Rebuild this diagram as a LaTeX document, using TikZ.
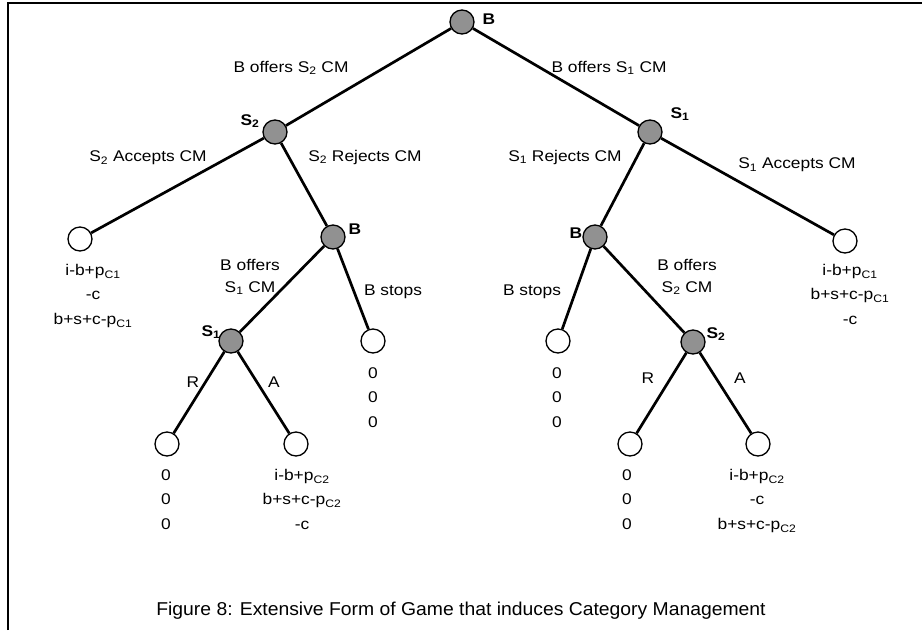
\documentclass[tikz,border=0pt]{standalone}
\usepackage{fontspec}
\setmainfont{Liberation Sans}[FakeStretch=1.12]
\newfontfamily\capfont{Liberation Sans}[FakeStretch=1.04]
\begin{document}
\begin{tikzpicture}[x=1pt,y=-1pt,
  dec/.style={circle,draw=black,line width=1.3pt,fill={rgb,255:red,145;green,145;blue,145},minimum size=24pt,inner sep=0pt},
  term/.style={circle,draw=black,line width=1.3pt,fill=white,minimum size=24pt,inner sep=0pt},
  branch/.style={line width=2.7pt},
  lbl/.style={font=\fontsize{15.5}{17}\selectfont,inner sep=0pt},
  plabel/.style={font=\fontsize{15.5}{17}\selectfont\bfseries,inner sep=0pt},
  pay/.style={font=\fontsize{15.5}{24.5}\selectfont,align=center,anchor=north,inner sep=0pt}]
\useasboundingbox (0,0) rectangle (922,630);
% frame
\draw[line width=2pt] (7.5,630) -- (7.5,3) -- (922,3);

% decision and terminal nodes
\node[dec] (root) at (462,22) {};
\node[dec] (sL) at (275,132) {};
\node[dec] (sR) at (650,132) {};
\node[term] (tL) at (80,239) {};
\node[dec] (bL) at (333,237) {};
\node[dec] (bR) at (595,237) {};
\node[term] (tR) at (845,241) {};
\node[dec] (s1L) at (231,341) {};
\node[term] (stopL) at (373,341) {};
\node[term] (stopR) at (558,341) {};
\node[dec] (s2R) at (693,342) {};
\node[term] (rL) at (167,444) {};
\node[term] (aL) at (296,444) {};
\node[term] (rR) at (630,444) {};
\node[term] (aR) at (758,444) {};

% branches
\draw[branch] (root) -- (sL);
\draw[branch] (root) -- (sR);
\draw[branch] (sL) -- (tL);
\draw[branch] (sL) -- (bL);
\draw[branch] (sR) -- (bR);
\draw[branch] (sR) -- (tR);
\draw[branch] (bL) -- (s1L);
\draw[branch] (bL) -- (stopL);
\draw[branch] (bR) -- (stopR);
\draw[branch] (bR) -- (s2R);
\draw[branch] (s1L) -- (rL);
\draw[branch] (s1L) -- (aL);
\draw[branch] (s2R) -- (rR);
\draw[branch] (s2R) -- (aR);

% player labels
\node[plabel] (pRoot) at (489,19) {B};
\node[plabel] (pSL) at (250,121) {S\textsubscript{2}};
\node[plabel] (pSR) at (680,114) {S\textsubscript{1}};
\node[plabel] (pBL) at (355,229) {B};
\node[plabel] (pBR) at (576,233) {B};
\node[plabel] (pS1L) at (211,332) {S\textsubscript{1}};
\node[plabel] (pS2R) at (716,334) {S\textsubscript{2}};

% action labels
\node[lbl] (a1) at (291,68) {B offers S\textsubscript{2} CM};
\node[lbl] (a2) at (609,68) {B offers S\textsubscript{1} CM};
\node[lbl] (a3) at (148,158) {S\textsubscript{2} Accepts CM};
\node[lbl] (a4) at (365,157) {S\textsubscript{2} Rejects CM};
\node[lbl] (a5) at (565,157) {S\textsubscript{1} Rejects CM};
\node[lbl] (a6) at (797,165) {S\textsubscript{1} Accepts CM};
\node[lbl,align=center,font=\fontsize{15.5}{22}\selectfont] (a7) at (250,277) {B offers\\S\textsubscript{1} CM};
\node[lbl,align=center,font=\fontsize{15.5}{22}\selectfont] (a8) at (687,277) {B offers\\S\textsubscript{2} CM};
\node[lbl] (a9) at (393,292) {B stops};
\node[lbl] (a10) at (532,292) {B stops};
\node[lbl] (a11) at (193,382) {R};
\node[lbl] (a12) at (274,382) {A};
\node[lbl] (a13) at (648,378) {R};
\node[lbl] (a14) at (740,378) {A};

% payoffs
\node[pay] (vL) at (93,264) {i-b+p\textsubscript{C1}\\-c\\b+s+c-p\textsubscript{C1}};
\node[pay] (vR) at (850,264) {i-b+p\textsubscript{C1}\\b+s+c-p\textsubscript{C1}\\-c};
\node[pay] (vStopL) at (373,367) {0\\0\\0};
\node[pay] (vStopR) at (557,367) {0\\0\\0};
\node[pay] (vRL) at (166,469) {0\\0\\0};
\node[pay] (vAL) at (302,469) {i-b+p\textsubscript{C2}\\b+s+c-p\textsubscript{C2}\\-c};
\node[pay] (vRR) at (627,469) {0\\0\\0};
\node[pay] (vAR) at (757,469) {i-b+p\textsubscript{C2}\\-c\\b+s+c-p\textsubscript{C2}};

% caption
\node[font=\capfont\fontsize{18.6}{20}\selectfont,inner sep=0pt] (cap) at (461,611) {Figure 8: Extensive Form of Game that induces Category Management};
\end{tikzpicture}
\end{document}
